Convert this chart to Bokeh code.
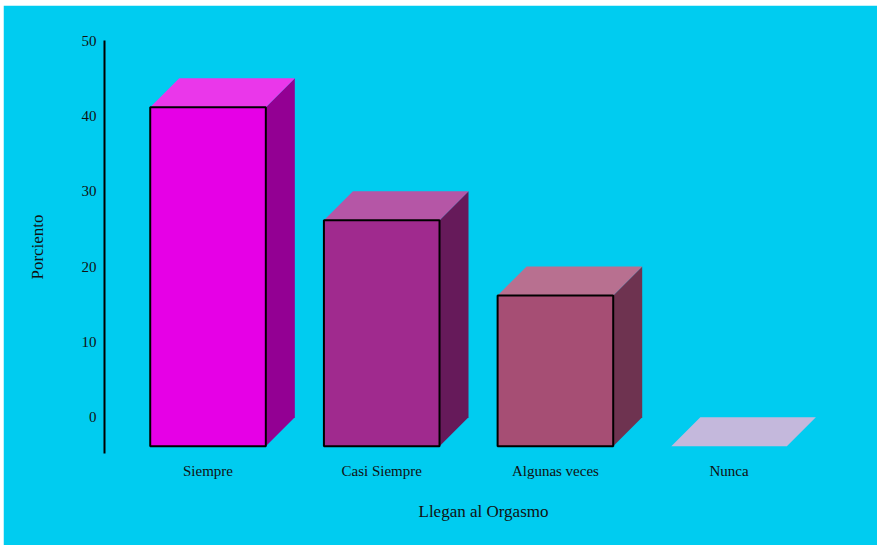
from bokeh.plotting import figure
from bokeh.models import Range1d, FixedTicker
from bokeh.embed import file_html
from bokeh.resources import INLINE

# ---- data ----
categories = ["Siempre", "Casi Siempre", "Algunas veces", "Nunca"]
values = [45, 30, 20, 0]
y_ticks = [0, 10, 20, 30, 40, 50]

# ---- styles ----
front_colors = ["#E600E6", "#A02A8E", "#A64E74", "#C4B8DC"]
top_colors = ["#EA37EA", "#B556A6", "#B87090", "#C4B8DC"]
side_colors = ["#930093", "#661A5A", "#6E3350", "#9A8CB4"]
BG = "#00CCF0"
FONT = "Liberation Serif"

# geometry (layout in pixels converted to data units)
frame_w, frame_h = 758, 413
x_start, x_end = -0.596, 3.768
y_start, y_end = -4.82, 50
px_x = frame_w / (x_end - x_start)
px_y = frame_h / (y_end - y_start)
half_w = 57.8 / px_x
dx = 29 / px_x
dy = 29 / px_y

p = figure(width=874, height=540, output_backend="svg", toolbar_location=None,
           x_range=Range1d(x_start, x_end), y_range=Range1d(y_start, y_end),
           min_border_left=101, min_border_right=15, min_border_top=35, min_border_bottom=92,
           background_fill_color=BG, border_fill_color=BG,
           outline_line_color=BG, outline_line_width=2,
           margin=(5, 0, 0, 3))
p.grid.visible = False

fx, fy, fc = [], [], []
tx, ty, tc = [], [], []
sx, sy, sc = [], [], []
for i, v in enumerate(values):
    l, r = i - half_w, i + half_w
    tx.append([l, r, r + dx, l + dx]); ty.append([v - dy, v - dy, v, v]); tc.append(top_colors[i])
    if v > 0:
        fx.append([l, r, r, l]); fy.append([-dy, -dy, v - dy, v - dy]); fc.append(front_colors[i])
        sx.append([r, r + dx, r + dx, r]); sy.append([-dy, 0, v, v - dy]); sc.append(side_colors[i])

p.patches(sx, sy, fill_color=sc, line_color=None)
p.patches(tx, ty, fill_color=tc, line_color=None)
p.patches(fx, fy, fill_color=fc, line_color="black", line_width=2)

# y axis
ya = p.yaxis[0]
ya.ticker = FixedTicker(ticks=y_ticks)
ya.axis_line_color = "black"
ya.axis_line_width = 2
ya.major_tick_line_color = None
ya.minor_tick_line_color = None
ya.major_tick_out = 0
ya.major_tick_in = 0
ya.major_label_standoff = 8
ya.major_label_text_font = FONT
ya.major_label_text_font_size = "15px"
ya.major_label_text_color = "#111111"
ya.axis_label = "Porciento"
ya.axis_label_text_font = FONT
ya.axis_label_text_font_size = "17px"
ya.axis_label_text_font_style = "normal"
ya.axis_label_text_color = "#111111"
ya.axis_label_standoff = 32

# x axis
xa = p.xaxis[0]
xa.ticker = FixedTicker(ticks=list(range(len(categories))))
xa.major_label_overrides = {i: c for i, c in enumerate(categories)}
xa.axis_line_color = None
xa.major_tick_line_color = None
xa.minor_tick_line_color = None
xa.major_tick_out = 0
xa.major_tick_in = 0
xa.major_label_standoff = 9
xa.major_label_text_font = FONT
xa.major_label_text_font_size = "15px"
xa.major_label_text_color = "#111111"
xa.axis_label = "Llegan al Orgasmo"
xa.axis_label_text_font = FONT
xa.axis_label_text_font_size = "17px"
xa.axis_label_text_font_style = "normal"
xa.axis_label_text_color = "#111111"
xa.axis_label_standoff = 20

open("out.html", "w").write(file_html(p, INLINE))
